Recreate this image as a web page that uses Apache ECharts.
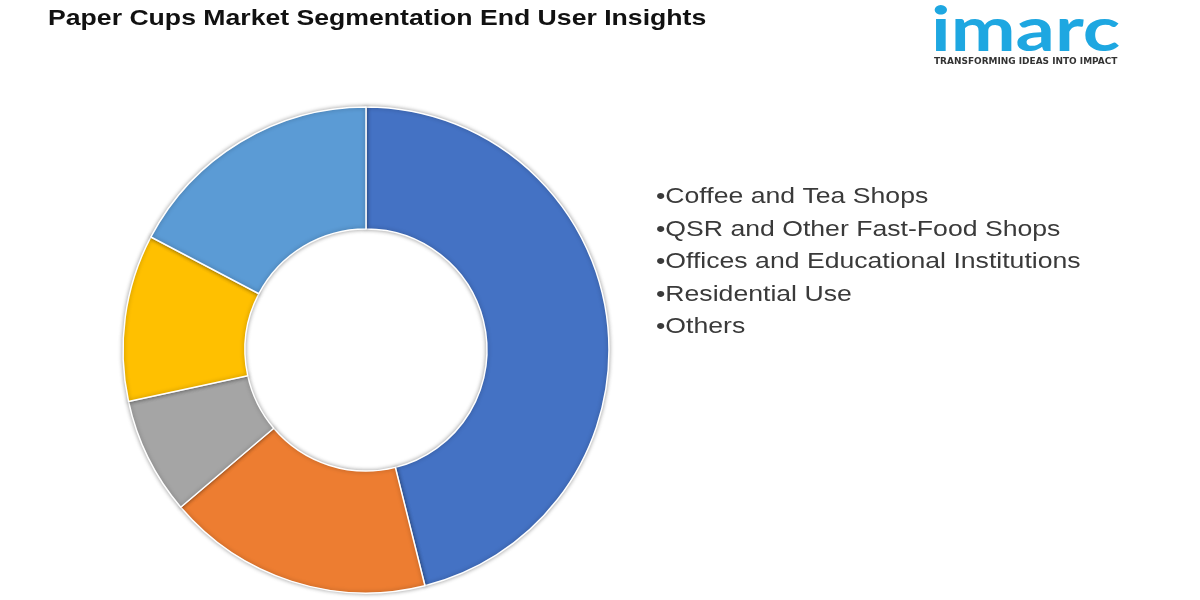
<!DOCTYPE html>
<html>
<head>
<meta charset="utf-8">
<script src="https://cdn.jsdelivr.net/npm/echarts@6/dist/echarts.min.js"></script>
<style>
  html, body { margin: 0; padding: 0; background: #fff; }
  #main { width: 1200px; height: 600px; }
</style>
</head>
<body>
<div id="main"></div>
<script>
var segments = ['Coffee and Tea Shops', 'QSR and Other Fast-Food Shops', 'Offices and Educational Institutions', 'Residential Use', 'Others'];
var shares = [46.1, 17.7, 7.8, 11.1, 17.3];
var colors = ['#4472C4', '#ED7D31', '#A5A5A5', '#FFC000', '#5B9BD5'];

var chart = echarts.init(document.getElementById('main'));

var pieData = segments.map(function (name, i) {
    return { name: name, value: shares[i], itemStyle: { color: colors[i] } };
});

// the source picture has its text stretched wider than normal
var stretch = 1.21;

// bullet list on the right, one line per segment
var listItems = segments.map(function (name, i) {
    return {
        type: 'text',
        x: 656,
        y: 186 + i * 32.5,
        scaleX: stretch,
        silent: true,
        style: {
            text: '\u2022' + name,
            fontFamily: 'Liberation Sans, Arial, sans-serif',
            fontSize: 22,
            fill: '#3a3a3a'
        }
    };
});

var option = {
    backgroundColor: '#ffffff',
    animation: false,
    graphic: [
        {
            type: 'text',
            x: 48,
            y: 8,
            scaleX: stretch,
            style: {
                text: 'Paper Cups Market Segmentation End User Insights',
                fontFamily: 'Liberation Sans, Arial, sans-serif',
                fontSize: 22,
                fontWeight: 'bold',
                fill: '#111'
            }
        },
        {
            type: 'text',
            x: 931,
            y: 0,
            scaleX: 1.25,
            style: {
                text: 'imarc',
                fontFamily: 'Lato, Open Sans, sans-serif',
                fontSize: 62,
                fontWeight: 'bold',
                fill: '#1EA7E1'
            }
        },
        {
            type: 'text',
            x: 934,
            y: 58,
            scaleX: 1.12,
            style: {
                text: 'TRANSFORMING IDEAS INTO IMPACT',
                fontFamily: 'DejaVu Sans, sans-serif',
                fontSize: 8,
                fontWeight: 'bold',
                fill: '#333'
            }
        }
    ].concat(listItems),
    series: [
        {
            type: 'pie',
            center: [366, 350],
            radius: [121, 243],
            startAngle: 90,
            clockwise: true,
            label: { show: false },
            labelLine: { show: false },
            emphasis: { disabled: true },
            itemStyle: {
                borderColor: '#ffffff',
                borderWidth: 1.5,
                shadowBlur: 4,
                shadowColor: 'rgba(0,0,0,0.35)'
            },
            data: pieData
        }
    ]
};

chart.setOption(option);
</script>
</body>
</html>
